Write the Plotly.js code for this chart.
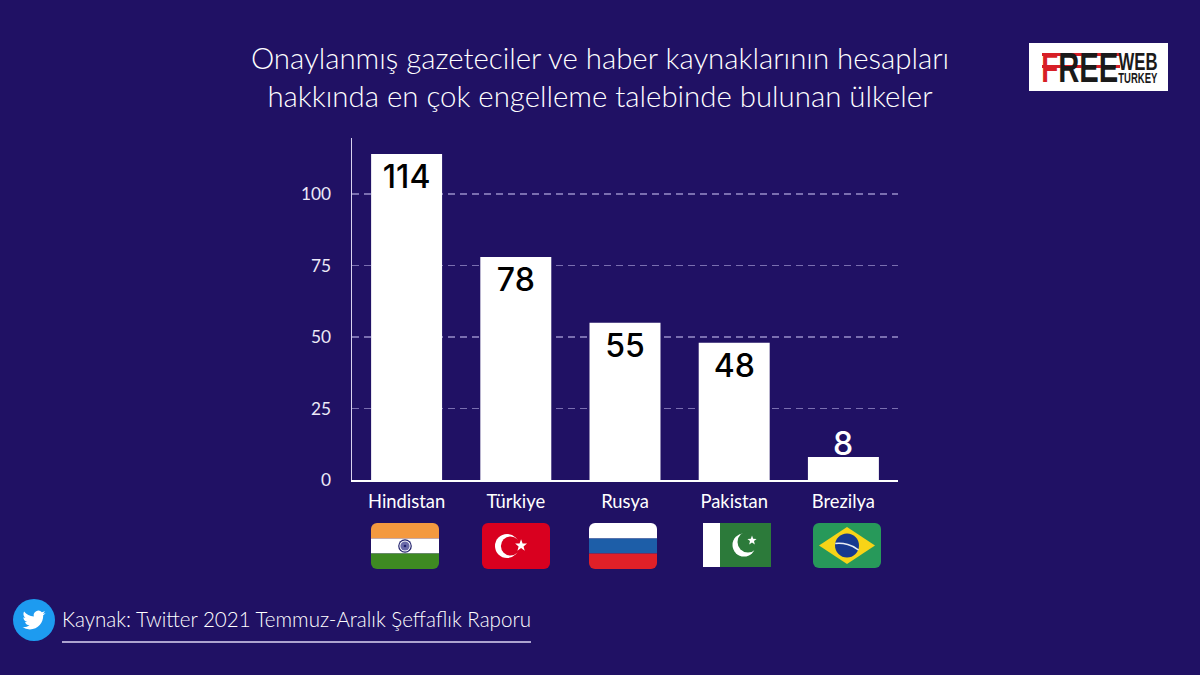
<!DOCTYPE html>
<html>
<head>
<meta charset="utf-8">
<script src="https://cdn.plot.ly/plotly-3.0.1.min.js"></script>
<style>
    html, body { margin: 0; padding: 0; background: #201164; }
</style>
</head>
<body>
<div id="chart" style="width:1200px;height:675px;"></div>
<script>
const countries = ["Hindistan", "Türkiye", "Rusya", "Pakistan", "Brezilya"]
const requests = [114, 78, 55, 48, 8]
const y_ticks = [0, 25, 50, 75, 100]
const label_places = ["inside", "inside", "inside", "inside", "none"]

const title_text = "Onaylanmış gazeteciler ve haber kaynaklarının hesapları<br>hakkında en çok engelleme talebinde bulunan ülkeler"
const source_text = "Kaynak: Twitter 2021 Temmuz-Aralık Şeffaflık Raporu"

// plot area in page pixels, decorations below are placed from these
const plot = { left: 352, right: 898, top: 138, bottom: 480 }
const px = (x) => (x - plot.left) / (plot.right - plot.left)
const py = (y) => (plot.bottom - y) / (plot.bottom - plot.top)

function svgUri(w, h, body) {
    const svg = `<svg xmlns="http://www.w3.org/2000/svg" width="${w * 4}" height="${h * 4}" viewBox="0 0 ${w} ${h}">${body}</svg>`
    return "data:image/svg+xml;charset=utf-8," + encodeURIComponent(svg)
}

function pageImage(source, x0, y0, x1, y1) {
    return {
        source: source,
        xref: "paper", yref: "paper",
        x: px(x0), y: py(y0),
        sizex: (x1 - x0) / (plot.right - plot.left),
        sizey: (y1 - y0) / (plot.bottom - plot.top),
        xanchor: "left", yanchor: "top",
        sizing: "stretch",
        layer: "above"
    }
}

function pageRect(x0, y0, x1, y1, color) {
    return {
        type: "rect", xref: "paper", yref: "paper",
        x0: px(x0), x1: px(x1), y0: py(y0), y1: py(y1),
        fillcolor: color, line: { width: 0 }, layer: "above"
    }
}

function pageText(text, x, y, size, color, family, weight, anchor) {
    return {
        text: text, xref: "paper", yref: "paper",
        x: px(x), y: py(y),
        xanchor: anchor || "left", yanchor: "middle",
        showarrow: false,
        font: { size: size, color: color, family: family, weight: weight || 400 }
    }
}

const clip = (id) => `<clipPath id="${id}"><rect width="68" height="46" rx="6"/></clipPath>`

const india = svgUri(68, 46, clip("a") + `<g clip-path="url(#a)">
    <rect width="68" height="15.5" fill="#f4993f"/><rect y="15.5" width="68" height="15" fill="#fff"/>
    <rect y="30.5" width="68" height="15.5" fill="#3e8a22"/>
    <circle cx="34" cy="23" r="6.8" fill="#22226e"/><circle cx="34" cy="23" r="5.6" fill="#fff"/>
    <circle cx="34" cy="23" r="4.6" fill="#6a6aa8"/><circle cx="34" cy="23" r="1.3" fill="#22226e"/></g>`)

const turkey = svgUri(68, 46, clip("a") + `<g clip-path="url(#a)"><rect width="68" height="46" fill="#d9001f"/>
    <circle cx="25" cy="23" r="12" fill="#fff"/><circle cx="28.5" cy="23" r="9.6" fill="#d9001f"/>
    <polygon points="39.5,15.5 41.3,20.5 46.5,20.7 42.4,24 43.8,29 39.5,26 35.2,29 36.6,24 32.5,20.7 37.7,20.5" fill="#fff" transform="translate(5.5 3) scale(.85)"/></g>`)

const russia = svgUri(68, 46, clip("a") + `<g clip-path="url(#a)"><rect width="68" height="15.5" fill="#fff"/>
    <rect y="15.5" width="68" height="15" fill="#1d5ea8"/><rect y="30.5" width="68" height="15.5" fill="#e02028"/></g>`)

const pakistan = svgUri(68, 44, `<rect width="17" height="44" fill="#fff"/><rect x="17" width="51" height="44" fill="#2c7a3a"/>
    <circle cx="41" cy="22" r="11.5" fill="#fff"/><circle cx="45" cy="19" r="10.5" fill="#2c7a3a"/>
    <polygon points="49,13 50.2,16.2 53.6,16.4 51,18.6 51.8,22 49,20.1 46.2,22 47,18.6 44.4,16.4 47.8,16.2" fill="#fff" transform="translate(0 -.5)"/>`)

const brazil = svgUri(68, 45, `<rect width="68" height="45" rx="6" fill="#27995a"/>
    <polygon points="34,4 62,22.5 34,41 6,22.5" fill="#f7d417"/>
    <circle cx="34" cy="22.5" r="12" fill="#17398f"/>
    <path d="M22.3 20.5 C30 19.5 40 22 45.5 27" stroke="#e8eef5" stroke-width="1.6" fill="none"/>`)

const twitter_bird = "M23.953 4.57a10 10 0 01-2.825.775 4.958 4.958 0 002.163-2.723c-.951.555-2.005.959-3.127 1.184a4.92 4.92 0 00-8.384 4.482C7.69 8.095 4.067 6.13 1.64 3.162a4.822 4.822 0 00-.666 2.475c0 1.71.87 3.213 2.188 4.096a4.904 4.904 0 01-2.228-.616v.06a4.923 4.923 0 003.946 4.827 4.996 4.996 0 01-2.212.085 4.936 4.936 0 004.604 3.417 9.867 9.867 0 01-6.102 2.105c-.39 0-.779-.023-1.17-.067a13.995 13.995 0 007.557 2.209c9.053 0 13.998-7.496 13.998-13.985 0-.21 0-.42-.015-.63A9.935 9.935 0 0024 4.59z"
const twitter = svgUri(42, 42, `<circle cx="21" cy="21" r="21" fill="#1d9bf0"/>
    <path d="${twitter_bird}" fill="#fff" transform="translate(9.5 9.5) scale(.96)"/>`)

const value_font = { family: "Inter", size: 32, weight: 500 }

var data = [{
    type: "bar",
    x: countries,
    y: requests,
    text: requests.map(String),
    textposition: label_places,
    insidetextanchor: "end",
    textangle: 0,
    constraintext: "none",
    cliponaxis: false,
    textfont: { ...value_font, color: "#000000" },
    marker: { color: "#ffffff", line: { width: 0 } },
    hoverinfo: "skip"
}];

var layout = {
    width: 1200,
    height: 675,
    margin: { l: plot.left, r: 1200 - plot.right, t: plot.top, b: 675 - plot.bottom, pad: 0 },
    paper_bgcolor: "#201164",
    plot_bgcolor: "#201164",
    showlegend: false,
    bargap: 0.35,
    font: { family: "Lato", color: "#ffffff" },
    title: {
        text: title_text,
        x: 0.5, xanchor: "center",
        y: 0.8976, yanchor: "middle",
        font: { family: "Lato", size: 29.4, color: "#ffffff", weight: 300 }
    },
    xaxis: {
        type: "category",
        showgrid: false,
        zeroline: false,
        showline: true,
        linecolor: "#ffffff",
        linewidth: 1.5,
        ticks: "",
        ticklabelstandoff: 4,
        tickfont: { family: "Lato", size: 18.4, color: "#ffffff" }
    },
    yaxis: {
        range: [0, 119.6],
        tickmode: "array",
        tickvals: y_ticks,
        ticks: "",
        ticklabelstandoff: 16,
        tickfont: { family: "Lato", size: 17.3, color: "#ece9f7" },
        showline: true,
        linecolor: "#d8d2ee",
        linewidth: 1.5,
        zeroline: false,
        gridcolor: "#7a6fb0",
        griddash: "7px,5px",
        gridwidth: 1.5
    },
    images: [
        pageImage(india, 371, 523, 439, 569),
        pageImage(turkey, 482, 523, 550, 569),
        pageImage(russia, 589, 523, 657, 569),
        pageImage(pakistan, 703, 523, 771, 567),
        pageImage(brazil, 813, 523, 881, 568),
        pageImage(twitter, 13, 599, 55, 641)
    ],
    shapes: [
        // logo
        pageRect(1029, 43, 1168, 91, "#ffffff"),
        pageRect(1042, 53, 1120, 56, "#d71f26"),
        pageRect(1042, 65, 1120, 68, "#d71f26"),
        // line under the source
        { type: "line", xref: "paper", yref: "paper", x0: px(62), x1: px(531), y0: py(642), y1: py(642),
          line: { color: "#ddd6f3", width: 1.5 }, layer: "above" }
    ],
    annotations: [
        // the 8 does not fit its bar, so it sits just above it in white
        {
            text: String(requests[4]), x: countries[4], y: requests[4], xref: "x", yref: "y",
            yanchor: "middle", yshift: 14, showarrow: false,
            font: { ...value_font, color: "#ffffff" }
        },
        pageText(source_text, 60, 619, 20.55, "#ffffff", "Lato", 300),
        pageText("F", 1050, 68, 42, "#d71f26", "Liberation Sans", 700, "center"),
        pageText("REE", 1088, 68, 42, "#1a1a1a", "Liberation Sans", 700, "center"),
        pageText("WEB", 1137.5, 61.5, 24, "#1a1a1a", "Liberation Sans", 700, "center"),
        pageText("TURKEY", 1137.5, 78, 14, "#1a1a1a", "Liberation Sans", 700, "center")
    ]
};

// no narrow bold font is installed, squeeze the logo words into their widths
const logo_widths = { "F": 17, "REE": 60, "WEB": 39, "TURKEY": 39 }

Plotly.newPlot("chart", data, layout, { displayModeBar: false, staticPlot: true }).then(function (gd) {
    gd.querySelectorAll(".annotation-text").forEach(function (el) {
        const w = logo_widths[el.textContent]
        if (w) {
            el.setAttribute("textLength", w)
            el.setAttribute("lengthAdjust", "spacingAndGlyphs")
        }
    })
});
</script>
</body>
</html>
